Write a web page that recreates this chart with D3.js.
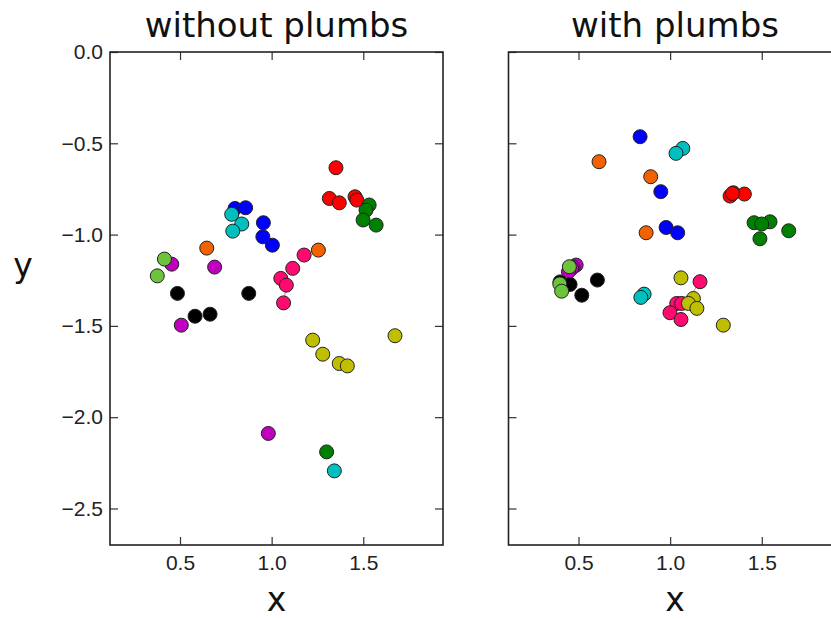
<!DOCTYPE html>
<html>
<head>
<meta charset="utf-8">
<script src="https://cdn.jsdelivr.net/npm/d3@7"></script>
<style>
  body { margin: 0; background: #fff; }
  svg { display: block; font-family: "DejaVu Sans", sans-serif; }
  .tick line { stroke: #333; stroke-width: 1.2; }
  .tick text { fill: #222; font-size: 21px; }
</style>
</head>
<body>
<div id="chart"></div>
<script>
// groups and their matplotlib-like colours
const groups = ["red", "green", "blue", "cyan", "orange", "magenta", "lime", "black", "pink", "yellow"];
const groupColors = ["#ff0000", "#008000", "#0000ff", "#00bfbf", "#f26200", "#bf00bf", "#6dc43a", "#000000", "#ff0a6e", "#bfbf00"];

const xTicks = [0.5, 1.0, 1.5];
const yTicks = [0.0, -0.5, -1.0, -1.5, -2.0, -2.5];
const panelTitles = ["without plumbs", "with plumbs"];

// [x, y, group]
const withoutPlumbs = [
  [1.351, -0.634, "red"], [1.315, -0.802, "red"], [1.369, -0.826, "red"], [1.455, -0.793, "red"], [1.465, -0.811, "red"],
  [1.532, -0.838, "green"], [1.515, -0.866, "green"], [1.499, -0.920, "green"], [1.570, -0.948, "green"], [1.300, -2.190, "green"],
  [0.800, -0.857, "blue"], [0.858, -0.853, "blue"], [0.955, -0.935, "blue"], [0.952, -1.012, "blue"], [1.004, -1.058, "blue"],
  [0.782, -0.889, "cyan"], [0.837, -0.942, "cyan"], [0.788, -0.981, "cyan"], [1.342, -2.294, "cyan"],
  [0.646, -1.074, "orange"], [1.255, -1.085, "orange"],
  [0.455, -1.162, "magenta"], [0.689, -1.178, "magenta"], [0.507, -1.496, "magenta"], [0.982, -2.089, "magenta"],
  [0.415, -1.134, "lime"], [0.376, -1.226, "lime"],
  [0.486, -1.322, "black"], [0.875, -1.322, "black"], [0.582, -1.447, "black"], [0.664, -1.436, "black"],
  [1.177, -1.112, "pink"], [1.115, -1.185, "pink"], [1.050, -1.240, "pink"], [1.080, -1.277, "pink"], [1.065, -1.374, "pink"],
  [1.224, -1.578, "yellow"], [1.279, -1.655, "yellow"], [1.369, -1.706, "yellow"], [1.413, -1.719, "yellow"], [1.673, -1.554, "yellow"]
];

const withPlumbs = [
  [1.345, -0.771, "red"], [1.327, -0.789, "red"], [1.405, -0.778, "red"], [1.340, -0.775, "red"],
  [1.458, -0.935, "green"], [1.545, -0.930, "green"], [1.500, -0.942, "green"], [1.490, -1.023, "green"], [1.647, -0.979, "green"],
  [0.836, -0.464, "blue"], [0.949, -0.765, "blue"], [0.978, -0.961, "blue"], [1.041, -0.990, "blue"],
  [1.069, -0.528, "cyan"], [1.032, -0.555, "cyan"], [0.858, -1.326, "cyan"], [0.840, -1.344, "cyan"],
  [0.612, -0.601, "orange"], [0.894, -0.683, "orange"], [0.869, -0.990, "orange"],
  [0.487, -1.167, "magenta"], [0.470, -1.178, "magenta"], [0.463, -1.185, "magenta"], [0.445, -1.204, "magenta"],
  [0.399, -1.259, "black"], [0.454, -1.273, "black"], [0.518, -1.332, "black"], [0.603, -1.249, "black"],
  [0.450, -1.176, "lime"], [0.398, -1.270, "lime"], [0.408, -1.310, "lime"],
  [1.163, -1.258, "pink"], [1.036, -1.377, "pink"], [1.063, -1.377, "pink"], [0.999, -1.428, "pink"], [1.059, -1.465, "pink"],
  [1.059, -1.237, "yellow"], [1.127, -1.350, "yellow"], [1.100, -1.377, "yellow"], [1.146, -1.404, "yellow"], [1.290, -1.496, "yellow"]
];

// thin connecting segments visible in the picture: [x1, y1, x2, y2]
const withoutLinks = [[1.065, -1.374, 1.080, -1.277]];
const withLinks = [[1.163, -1.258, 1.100, -1.350]];

const panels = [
  { title: panelTitles[0], data: withoutPlumbs, links: withoutLinks, left: 110, yLabels: true },
  { title: panelTitles[1], data: withPlumbs, links: withLinks, left: 508.5, yLabels: false }
];

const W = 831, H = 619;
const plotTop = 52, plotW = 333, plotH = 493;

const color = d3.scaleOrdinal().domain(groups).range(groupColors);
const x = d3.scaleLinear().domain([0.118, 1.935]).range([0, plotW]);
const y = d3.scaleLinear().domain([-2.7, 0]).range([plotH, 0]);

const svg = d3.select("#chart").append("svg")
  .attr("width", W)
  .attr("height", H);

panels.forEach(p => {
  const g = svg.append("g").attr("transform", `translate(${p.left}, ${plotTop})`);

  g.append("g")
    .attr("transform", `translate(0, ${plotH})`)
    .call(d3.axisBottom(x).tickValues(xTicks).tickSize(-8).tickPadding(10).tickFormat(d3.format(".1f")))
    .call(a => a.select(".domain").remove());

  g.append("g")
    .call(d3.axisTop(x).tickValues(xTicks).tickSize(-8).tickFormat(""))
    .call(a => a.select(".domain").remove());

  g.append("g")
    .call(d3.axisLeft(y).tickValues(yTicks).tickSize(-8).tickPadding(7)
      .tickFormat(p.yLabels ? d3.format(".1f") : ""))
    .call(a => a.select(".domain").remove());

  g.append("g")
    .attr("transform", `translate(${plotW}, 0)`)
    .call(d3.axisRight(y).tickValues(yTicks).tickSize(-8).tickFormat(""))
    .call(a => a.select(".domain").remove());

  g.selectAll(".link")
    .data(p.links)
    .join("line")
    .attr("class", "link")
    .attr("x1", d => x(d[0])).attr("y1", d => y(d[1]))
    .attr("x2", d => x(d[2])).attr("y2", d => y(d[3]))
    .attr("stroke", color("pink"))
    .attr("stroke-opacity", 0.6)
    .attr("stroke-width", 1);

  g.selectAll(".dot")
    .data(p.data)
    .join("circle")
    .attr("class", "dot")
    .attr("cx", d => x(d[0]))
    .attr("cy", d => y(d[1]))
    .attr("r", 7)
    .attr("fill", d => color(d[2]))
    .attr("stroke", "#222")
    .attr("stroke-width", 1);

  g.append("rect")
    .attr("width", plotW)
    .attr("height", plotH)
    .attr("fill", "none")
    .attr("stroke", "#222")
    .attr("stroke-width", 1.6);

  g.append("text")
    .attr("x", plotW / 2)
    .attr("y", -15)
    .attr("text-anchor", "middle")
    .attr("font-size", 34)
    .attr("fill", "#111")
    .text(p.title);

  g.append("text")
    .attr("x", plotW / 2)
    .attr("y", plotH + 66)
    .attr("text-anchor", "middle")
    .attr("font-size", 33)
    .attr("fill", "#111")
    .text("x");
});

svg.append("text")
  .attr("x", 23)
  .attr("y", 277)
  .attr("text-anchor", "middle")
  .attr("font-size", 33)
  .attr("fill", "#111")
  .text("y");
</script>
</body>
</html>
